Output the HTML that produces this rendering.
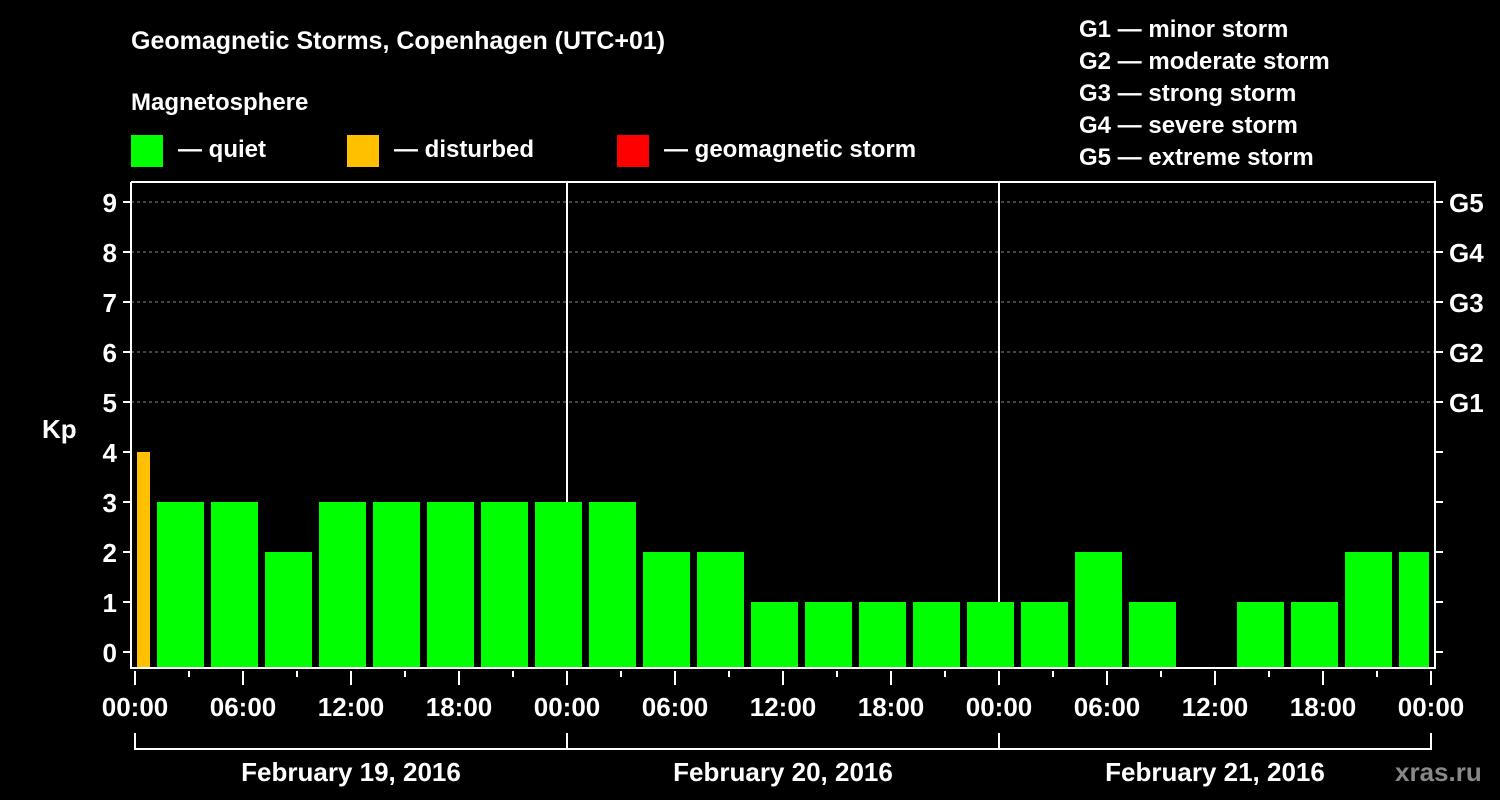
<!DOCTYPE html>
<html><head><meta charset="utf-8"><style>
html,body{margin:0;padding:0;background:#000;}
svg{display:block;font-family:"Liberation Sans",Arial,sans-serif;font-weight:bold;}
</style></head><body>
<svg id="chart" width="1500" height="800" viewBox="0 0 1500 800">
<rect x="0" y="0" width="1500" height="800" fill="#000"/>
<text x="131" y="49" fill="#fff" font-size="25">Geomagnetic Storms, Copenhagen (UTC+01)</text>
<text x="131" y="110" fill="#fff" font-size="24">Magnetosphere</text>
<g><rect x="131" y="135" width="32" height="32" fill="#00ff00"/><text x="178" y="157" fill="#fff" font-size="24">— quiet</text></g>
<g><rect x="347" y="135" width="32" height="32" fill="#ffc000"/><text x="394" y="157" fill="#fff" font-size="24">— disturbed</text></g>
<g><rect x="617" y="135" width="32" height="32" fill="#ff0000"/><text x="664" y="157" fill="#fff" font-size="24">— geomagnetic storm</text></g>
<g fill="#fff" font-size="24">
<text x="1079" y="37">G1 — minor storm</text>
<text x="1079" y="69">G2 — moderate storm</text>
<text x="1079" y="101">G3 — strong storm</text>
<text x="1079" y="133">G4 — severe storm</text>
<text x="1079" y="165">G5 — extreme storm</text>
</g>
<text x="42" y="438" fill="#fff" font-size="26">Kp</text>
<text x="1395" y="781" fill="#888" font-size="26">xras.ru</text>
<g id="grid"></g><g id="bars"></g><g id="axes"></g>
</svg>
<script>
const kpValues=[4,3,3,2,3,3,3,3,3,3,2,2,1,1,1,1,1,1,2,1,null,1,1,2,2];
const kpStartHours=[0,1,4,7,10,13,16,19,22,25,28,31,34,37,40,43,46,49,52,55,58,61,64,67,70];
const kpEndHours=[1,4,7,10,13,16,19,22,25,28,31,34,37,40,43,46,49,52,55,58,61,64,67,70,72];
const yTicks=[0,1,2,3,4,5,6,7,8,9];
const gLabels=["G1","G2","G3","G4","G5"];
const gLevels=[5,6,7,8,9];
const xTickLabels=["00:00","06:00","12:00","18:00","00:00","06:00","12:00","18:00","00:00","06:00","12:00","18:00","00:00"];
const dayLabels=["February 19, 2016","February 20, 2016","February 21, 2016"];
const NS="http://www.w3.org/2000/svg";
const X0=135,PXH=18,Y0=652,PXK=50,PL=131,PR=1435,PT=182,PB=668;
const x=h=>X0+h*PXH, y=v=>Y0-v*PXK;
function mk(tag,attrs,parent,text){const e=document.createElementNS(NS,tag);for(const k in attrs)e.setAttribute(k,attrs[k]);if(text!=null)e.textContent=text;document.getElementById(parent).appendChild(e);return e;}
// grid
gLevels.forEach((v,i)=>{
 const l=mk('line',{x1:PL,x2:PR,y1:y(v),y2:y(v),stroke:'#888','stroke-dasharray':'3,3','stroke-width':1},'grid');
 
 
 const t=mk('text',{x:1449,y:y(v)+10,fill:'#fff','font-size':26},'grid',gLabels[i]);
 
 
});
[1,2].forEach(d=>{
 const l=mk('line',{x1:x(24*d),x2:x(24*d),y1:PT,y2:PB,stroke:'#fff','stroke-width':2},'grid');
 
 
});
// bars
kpValues.forEach((v,i)=>{
 if(v==null)return;
 const x1=x(kpStartHours[i])+(i==0?2:4), x2=x(kpEndHours[i])-(i==kpValues.length-1?2:3);
 const c=v>=5?'#ff0000':(v>=4?'#ffc000':'#00ff00');
 const b=mk('rect',{x:x1,y:y(v),width:x2-x1,height:PB-y(v),fill:c},'bars');
 
 
});
// axes
mk('path',{d:`M${PL} ${PT}V${PB}H${PR}V${PT}H${PL}`,fill:'none',stroke:'#fff','stroke-width':2},'axes');
yTicks.forEach(v=>{
 mk('line',{x1:PL-8,x2:PL,y1:y(v),y2:y(v),stroke:'#fff','stroke-width':2},'axes');
 mk('line',{x1:PR,x2:PR+8,y1:y(v),y2:y(v),stroke:'#fff','stroke-width':2},'axes');
 const t=mk('text',{x:PL-14,y:y(v)+10,fill:'#fff','font-size':26,'text-anchor':'end'},'axes',String(v));
 
 
});
for(let h=0;h<=72;h+=3){
 const major=h%6==0;
 mk('line',{x1:x(h),x2:x(h),y1:PB+3,y2:PB+(major?17:9),stroke:'#fff','stroke-width':2},'axes');
}
xTickLabels.forEach((s,i)=>{
 const t=mk('text',{x:x(i*6),y:716,fill:'#fff','font-size':26,'text-anchor':'middle'},'axes',s);
 
 
});
mk('path',{d:`M${x(0)} 733V749H${x(72)}V733M${x(24)} 733V749M${x(48)} 733V749`,fill:'none',stroke:'#fff','stroke-width':2},'axes');
dayLabels.forEach((s,i)=>{
 const t=mk('text',{x:x(24*i+12),y:781,fill:'#fff','font-size':26,'text-anchor':'middle'},'axes',s);
 
 
});
</script>
</body></html>
